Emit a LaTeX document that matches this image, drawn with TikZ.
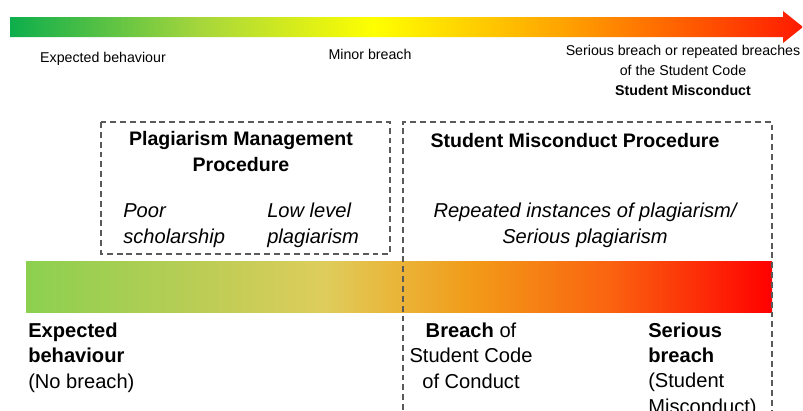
\documentclass[tikz,border=0pt]{standalone}
\usepackage{fontspec}
\setmainfont{Liberation Sans}
\usetikzlibrary{positioning}

\definecolor{boxgray}{HTML}{5A5A5A}
\definecolor{sgreen}{HTML}{0DAE4C}
\definecolor{slime}{HTML}{A6D63C}
\definecolor{syellow}{HTML}{FFFF00}
\definecolor{sorange}{HTML}{FFA200}
\definecolor{sred}{HTML}{FF1A00}
\definecolor{bgreen}{HTML}{8CD050}
\definecolor{bolive}{HTML}{BCCD55}
\definecolor{bsand}{HTML}{DECD5C}
\definecolor{bgold}{HTML}{E8B93E}
\definecolor{bamber}{HTML}{F29A18}
\definecolor{bflame}{HTML}{FA6410}
\definecolor{bred}{HTML}{FF0000}

% colour scales, left to right
\pgfdeclarehorizontalshading{topscale}{100bp}{color(0bp)=(sgreen); color(25bp)=(sgreen); color(37bp)=(slime); color(48bp)=(syellow); color(60bp)=(sorange); color(75bp)=(sred); color(100bp)=(sred)}
\pgfdeclarehorizontalshading{barscale}{100bp}{color(0bp)=(bgreen); color(25bp)=(bgreen); color(37bp)=(bolive); color(45bp)=(bsand); color(49bp)=(bgold); color(55bp)=(bamber); color(64bp)=(bflame); color(75bp)=(bred); color(100bp)=(bred)}

\begin{document}
\begin{tikzpicture}[x=0.025cm,y=-0.025cm,
	toplabel/.style={font=\fontsize{10.1}{14.2}\selectfont,align=center,inner sep=0},
	lowlabel/.style={font=\fontsize{14.3}{17.8}\selectfont,inner sep=0},
	procbox/.style={draw=boxgray,line width=1.1pt,dash pattern=on 4.2pt off 2.8pt}]
	\useasboundingbox (0,0) rectangle (803,410);

	% severity arrow (base anchor = last line)
	\shade[shading=topscale] (10,17) -- (783,17) -- (783,11) -- (803,27) -- (783,43) -- (783,37) -- (10,37) -- cycle;
	\node[toplabel,anchor=base] (expected) at (103,62) {Expected behaviour};
	\node[toplabel,anchor=base] (minor) at (370,59) {Minor breach};
	\node[toplabel,anchor=base] (serious) at (683,75) {Serious breach or repeated breaches\\of the Student Code};
	\node[toplabel,anchor=base,font=\fontsize{10.1}{12}\selectfont\bfseries] (misconduct) at (683,95) {Student Misconduct};

	% procedures
	\draw[procbox] (101,122) rectangle (390,254);
	\node[lowlabel,anchor=base,align=center,font=\fontsize{13.9}{17.8}\selectfont\bfseries] (pmp) at (241,171) {Plagiarism Management\\Procedure};
	\node[lowlabel,anchor=base west,align=left,font=\fontsize{14.3}{17.8}\selectfont\itshape] (poor) at (123,243) {Poor\\scholarship};
	\node[lowlabel,anchor=base west,align=left,font=\fontsize{14.3}{17.8}\selectfont\itshape] (lowlevel) at (267,243) {Low level\\plagiarism};
	\node[lowlabel,anchor=base,font=\fontsize{13.9}{17.8}\selectfont\bfseries] (smp) at (575,147) {Student Misconduct Procedure};
	\node[lowlabel,anchor=base,align=center,font=\fontsize{14.3}{17.8}\selectfont\itshape] (repeated) at (585,243) {Repeated instances of plagiarism/\\Serious plagiarism};

	% behaviour bar
	\shade[shading=barscale] (26,261) rectangle (772,312);
	\draw[procbox] (403,410) -- (403,122) -- (772,122) -- (772,410);
	\node[lowlabel,anchor=base west,align=left] (nobreach) at (28,388) {\textbf{Expected}\\\textbf{behaviour}\\(No breach)};
	\node[lowlabel,anchor=base,align=center] (breach) at (471,388) {\textbf{Breach} of\\Student Code\\of Conduct};
	\node[lowlabel,anchor=base west,align=left] (seriousbreach) at (648,413) {\textbf{Serious}\\\textbf{breach}\\(Student\\Misconduct)};
\end{tikzpicture}
\end{document}
